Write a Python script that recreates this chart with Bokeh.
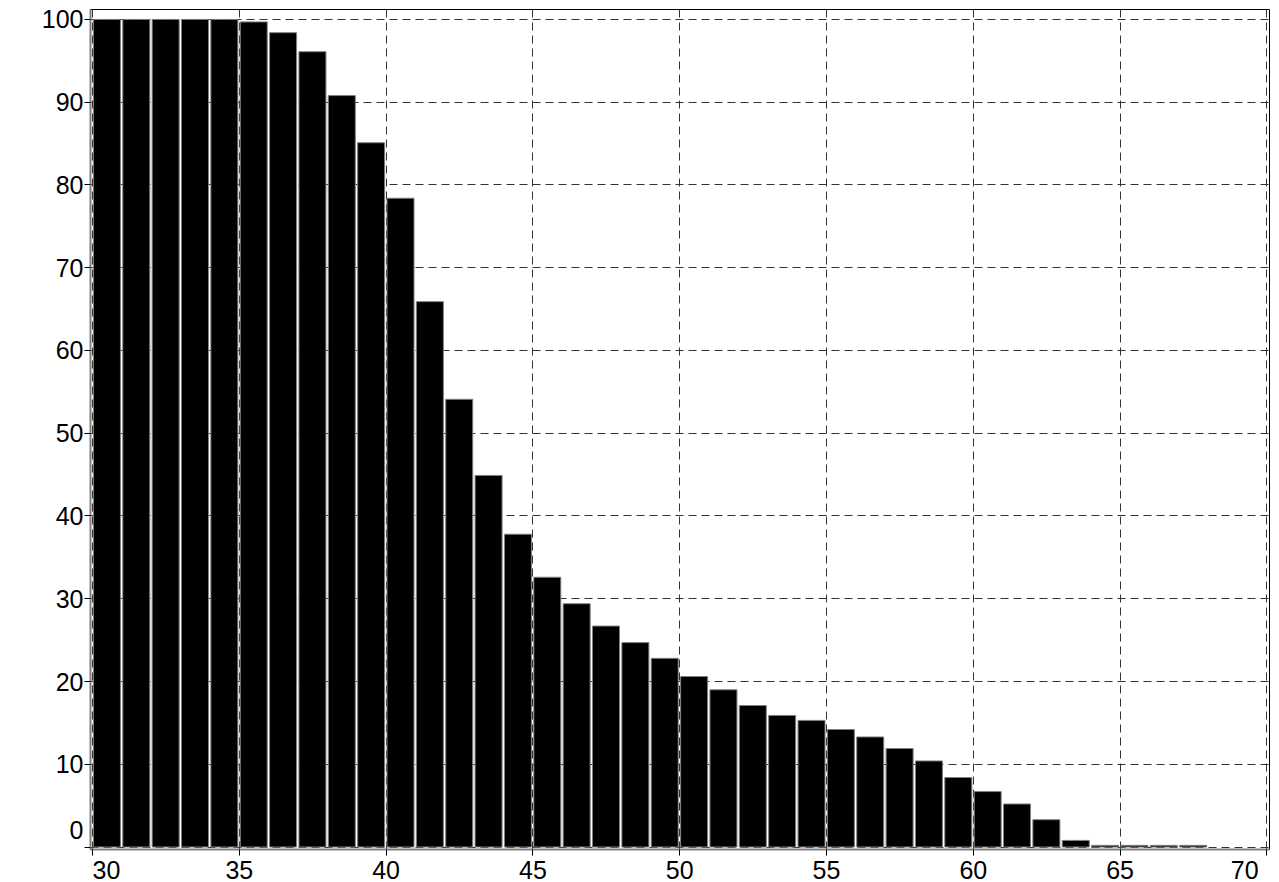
from bokeh.plotting import figure
from bokeh.models import ColumnDataSource, Range1d, FixedTicker
from bokeh.embed import file_html
from bokeh.resources import INLINE

# ---- data ----
bins = list(range(30, 68))
values = [100, 100, 100, 100, 100, 99.7, 98.4, 96.1, 90.8, 85.1, 78.4, 65.9,
          54.1, 44.9, 37.8, 32.6, 29.4, 26.7, 24.7, 22.8, 20.6, 19.0, 17.1,
          15.9, 15.3, 14.2, 13.3, 11.9, 10.4, 8.4, 6.7, 5.2, 3.3, 0.8, 0.2,
          0.2, 0.2, 0.2]
x_ticks = [30, 35, 40, 45, 50, 55, 60, 65, 70]
y_ticks = [0, 10, 20, 30, 40, 50, 60, 70, 80, 90, 100]

src = ColumnDataSource(dict(
    left=[b + 0.03 for b in bins],
    right=[b + 0.95 for b in bins],
    top=values,
    bottom=[0] * len(values),
))

FONT = "Liberation Sans"
NB = "\u00a0"

p = figure(width=1272, height=886, output_backend="svg", toolbar_location=None,
           x_range=Range1d(29.93, 70.09), y_range=Range1d(-0.3, 101.2),
           min_border_left=90, min_border_top=9, min_border_right=3,
           min_border_bottom=20)

p.quad(left="left", right="right", top="top", bottom="bottom", source=src,
       fill_color="black", line_color="#808080", line_width=1)

for ax, ticks in ((p.xaxis, x_ticks), (p.yaxis, y_ticks)):
    ax.ticker = FixedTicker(ticks=ticks)
    ax.minor_tick_line_color = None
    ax.major_tick_in = 0
    ax.major_tick_out = 6
    ax.major_tick_line_color = "black"
    ax.axis_line_color = "#808080"
    ax.axis_line_width = 2
    ax.major_label_text_font = FONT
    ax.major_label_text_font_size = "25px"
    ax.major_label_text_color = "black"

p.xaxis.major_label_overrides = {30: NB * 4 + "30", 70: "70" + NB * 2}
p.yaxis.major_label_overrides = {0: "0\n" + NB}
p.yaxis.major_label_standoff = 1
p.xaxis.major_label_standoff = 0

p.xgrid.ticker = FixedTicker(ticks=x_ticks)
p.ygrid.ticker = FixedTicker(ticks=y_ticks)
for g in (p.xgrid, p.ygrid):
    g.grid_line_color = "#333333"
    g.grid_line_dash = "8 5"
    g.grid_line_width = 1

p.outline_line_color = "black"
p.outline_line_width = 1
p.background_fill_color = "white"
p.border_fill_color = "white"

open("out.html", "w").write(file_html(p, INLINE))
